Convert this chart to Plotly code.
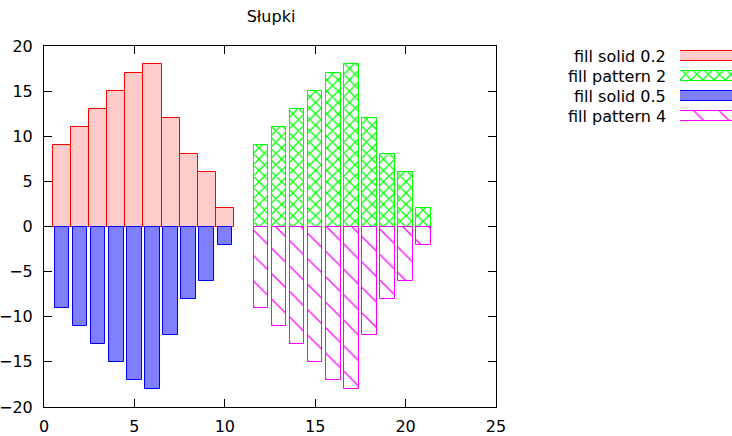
import plotly.graph_objects as go

# ---- data ----
x_pos = [1, 2, 3, 4, 5, 6, 7, 8, 9, 10]
values = [9, 11, 13, 15, 17, 18, 12, 8, 6, 2]
shift = 11
series_names = ["fill solid 0.2", "fill pattern 2", "fill solid 0.5", "fill pattern 4"]
title_text = "Słupki"
x_ticks = [0, 5, 10, 15, 20, 25]
y_ticks = [-20, -15, -10, -5, 0, 5, 10, 15, 20]

x_shift = [v + shift for v in x_pos]
neg = [-v for v in values]

W, H = 732, 436
ML, MR, MT, MB = 44, 0, 46, 29
PW = W - ML - MR
PH = H - MT - MB
main_right = 496
dom_main = (main_right - ML) / PW
leg_left = 680
dom_leg = (leg_left - ML) / PW
leg_top, leg_bot = 46, 126

styles = [
    dict(marker=dict(color="rgba(255,0,0,0.2)", line=dict(color="#ff0000", width=1))),
    dict(marker=dict(color="white", line=dict(color="#00ff00", width=1),
                     pattern=dict(shape="x", fgcolor="#00ff00", bgcolor="white",
                                  size=8, solidity=0.3, fillmode="replace"))),
    dict(marker=dict(color="rgba(0,0,255,0.5)", line=dict(color="#0000ff", width=1))),
    dict(marker=dict(color="white", line=dict(color="#ff00ff", width=1),
                     pattern=dict(shape="\\", fgcolor="#ff00ff", bgcolor="white",
                                  size=18, solidity=0.07, fillmode="replace"))),
]

fig = go.Figure()
data_sets = [(x_pos, values, 1.0), (x_shift, values, 0.8), (x_pos, neg, 0.8), (x_shift, neg, 0.8)]
for (xs, ys, w), st, name in zip(data_sets, styles, series_names):
    fig.add_trace(go.Bar(x=xs, y=ys, width=w, name=name, showlegend=False, **st))

# legend samples
for i, (st, name) in enumerate(zip(styles, series_names)):
    fig.add_trace(go.Bar(x=[2], y=[i], base=[0], orientation="h", width=0.5,
                         xaxis="x2", yaxis="y2", showlegend=False, hoverinfo="skip", **st))

font = dict(family="DejaVu Sans", size=16, color="black")
annotations = []
for i, name in enumerate(series_names):
    annotations.append(dict(text=name, x=(668 - ML) / PW, xref="paper", xanchor="right",
                            y=i, yref="y2", yanchor="middle", showarrow=False, font=font))

fig.update_layout(
    width=W, height=H,
    margin=dict(l=ML, r=MR, t=MT, b=MB, autoexpand=False),
    paper_bgcolor="white", plot_bgcolor="white",
    barmode="overlay", bargap=0,
    font=font,
    title=dict(text=title_text, x=(271 - ML) / PW, xref="paper", xanchor="center",
               y=1 - 16 / H, yref="container", yanchor="middle", font=font),
    xaxis=dict(domain=[0, dom_main], range=[0, 25], tickvals=x_ticks, ticks="inside", ticklen=8,
               showline=True, linecolor="black", linewidth=1, mirror="ticks", tickcolor="black",
               showgrid=False, zeroline=False, ticklabelstandoff=5, automargin=False),
    yaxis=dict(range=[-20, 20], tickvals=y_ticks, ticks="inside", ticklen=8,
               showline=True, linecolor="black", linewidth=1, mirror="ticks", tickcolor="black",
               showgrid=False, zeroline=False, ticklabelstandoff=7, automargin=False),
    xaxis2=dict(domain=[dom_leg, 1], range=[0, 1], visible=False, anchor="y2"),
    yaxis2=dict(domain=[(H - MB - leg_bot) / PH, 1], range=[3.5, -0.5], visible=False, anchor="x2"),
    annotations=annotations,
)

fig.write_html("out.html")
